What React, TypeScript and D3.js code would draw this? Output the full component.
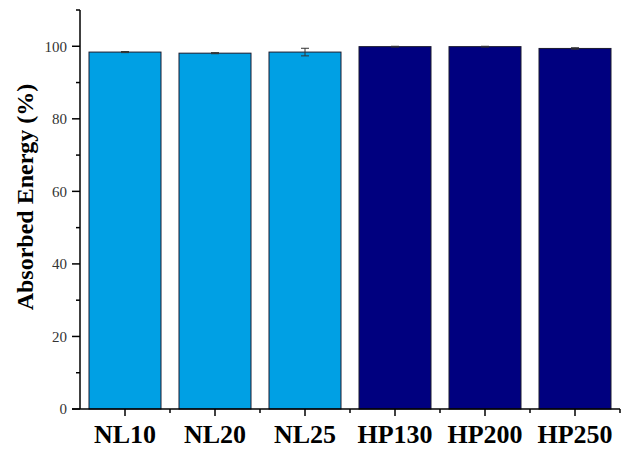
import React from "react";
import * as d3 from "d3";

const categories = ["NL10", "NL20", "NL25", "HP130", "HP200", "HP250"];
const values = [98.4, 98.1, 98.4, 99.9, 99.9, 99.4];
const errors = [0.15, 0.15, 1.05, 0.1, 0.1, 0.2];
const groups = ["NL", "NL", "NL", "HP", "HP", "HP"];
const yTicks = [0, 20, 40, 60, 80, 100];
const yMinorTicks = [10, 30, 50, 70, 90, 110];

const W = 628;
const H = 453;
const left = 80;
const right = 620;
const top = 10;
const bottom = 409;

export default function App() {
  const x = d3.scaleBand<string>().domain(categories).range([left, right]).paddingInner(0.2).paddingOuter(0.1);
  const y = d3.scaleLinear().domain([0, 110]).range([bottom, top]);
  const color = (g: string) => (g === "NL" ? "#00A0E4" : "#00007F");
  const step = x.step();
  const serif = "'Liberation Serif', 'Times New Roman', serif";
  const minorX = categories.map((c) => (x(c) as number) + x.bandwidth() / 2 + step / 2);

  return (
    <svg width={W} height={H} style={{ position: "absolute", left: 0, top: 0 }}>
      <rect width={W} height={H} fill="#fff" />
      {categories.map((c, i) => (
        <rect
          key={c}
          x={x(c)}
          y={y(values[i])}
          width={x.bandwidth()}
          height={y(0) - y(values[i])}
          fill={color(groups[i])}
          stroke="#1a1a2e"
          strokeWidth={1}
        />
      ))}
      {categories.map((c, i) => {
        const cx = (x(c) as number) + x.bandwidth() / 2;
        return (
          <g key={c + "e"} stroke="#333" strokeWidth={1}>
            <line x1={cx} x2={cx} y1={y(values[i] + errors[i])} y2={y(values[i] - errors[i])} />
            <line x1={cx - 4} x2={cx + 4} y1={y(values[i] + errors[i])} y2={y(values[i] + errors[i])} />
            <line x1={cx - 4} x2={cx + 4} y1={y(values[i] - errors[i])} y2={y(values[i] - errors[i])} />
          </g>
        );
      })}
      {/* y axis */}
      <line x1={left} x2={left} y1={top} y2={bottom} stroke="#000" strokeWidth={1.5} />
      {yTicks.map((t) => (
        <g key={t}>
          <line x1={left - 8} x2={left} y1={y(t)} y2={y(t)} stroke="#000" strokeWidth={1.5} />
          <text x={left - 13} y={y(t)} dy="0.35em" textAnchor="end" fontFamily={serif} fontSize={15} fill="#333">
            {t}
          </text>
        </g>
      ))}
      {yMinorTicks.map((t) => (
        <line key={t} x1={left - 4} x2={left} y1={y(t)} y2={y(t)} stroke="#000" strokeWidth={1.5} />
      ))}
      {/* x axis */}
      <line x1={left - 8} x2={right} y1={bottom} y2={bottom} stroke="#000" strokeWidth={1.5} />
      {categories.map((c) => {
        const cx = (x(c) as number) + x.bandwidth() / 2;
        return (
          <g key={c + "t"}>
            <line x1={cx} x2={cx} y1={bottom} y2={bottom + 7} stroke="#000" strokeWidth={1.5} />
            <text x={cx} y={443} textAnchor="middle" fontFamily={serif} fontWeight="bold" fontSize={26} fill="#000">
              {c}
            </text>
          </g>
        );
      })}
      {minorX.map((mx, i) => (
        <line key={"m" + i} x1={mx} x2={mx} y1={bottom} y2={bottom + 4} stroke="#000" strokeWidth={1.5} />
      ))}
      <text
        transform={`translate(33, 197) rotate(-90)`}
        textAnchor="middle"
        fontFamily={serif}
        fontWeight="bold"
        fontSize={24}
        fill="#000"
      >
        Absorbed Energy (%)
      </text>
    </svg>
  );
}
